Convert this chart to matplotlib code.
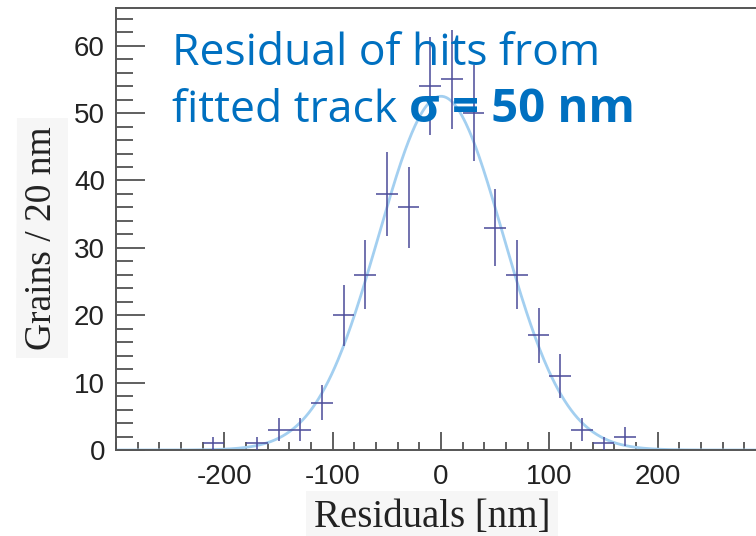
import matplotlib
matplotlib.use("Agg")
import matplotlib.pyplot as plt
import numpy as np
from matplotlib.ticker import MultipleLocator

plt.rcParams["axes.unicode_minus"] = False

# histogram of residuals (bin centres in nm, counts per 20 nm bin)
bin_centres = [-210, -170, -150, -130, -110, -90, -70, -50, -30, -10,
               10, 30, 50, 70, 90, 110, 130, 150, 170]
counts = [1, 1, 3, 3, 7, 20, 26, 38, 36, 54,
          55, 50, 33, 26, 17, 11, 3, 1, 2]
count_err = [1.0, 1.0, 1.7, 1.7, 2.6, 4.5, 5.1, 6.2, 6.0, 7.3,
             7.4, 7.1, 5.7, 5.1, 4.1, 3.3, 1.7, 1.0, 1.4]
bin_halfwidth = 10

# gaussian fit drawn over the histogram
fit_amp = 52.5
fit_mean = 0.0
fit_sigma = 57.5

x_ticks = [-200, -100, 0, 100, 200]
y_ticks = [0, 10, 20, 30, 40, 50, 60]

fig = plt.figure(figsize=(7.56, 5.36), dpi=100)
ax = fig.add_axes([116 / 756, 1 - 450 / 536, 650 / 756, 442 / 536])

xs = np.linspace(-300, 300, 601)
ax.plot(xs, fit_amp * np.exp(-0.5 * ((xs - fit_mean) / fit_sigma) ** 2),
        color="#a3cff0", linewidth=2.0, zorder=2)
ax.errorbar(bin_centres, counts, xerr=bin_halfwidth, yerr=count_err,
            fmt="none", ecolor="#4b4b99", elinewidth=1.3, alpha=0.85, zorder=3)

ax.set_xlim(-300, 300)
ax.set_ylim(0, 65.6)
ax.set_xticks(x_ticks)
ax.set_yticks(y_ticks)
ax.xaxis.set_minor_locator(MultipleLocator(20))
ax.yaxis.set_minor_locator(MultipleLocator(2))
ax.tick_params(axis="both", which="both", direction="in", colors="#444444",
               top=False, right=False, width=1.2)
ax.tick_params(axis="x", which="major", length=13, labelsize=20, pad=10,
               labelcolor="#222222")
ax.tick_params(axis="x", which="minor", length=6)
ax.tick_params(axis="y", which="major", length=21, labelsize=20, pad=8,
               labelcolor="#222222")
ax.tick_params(axis="y", which="minor", length=12)
for lab in ax.get_xticklabels() + ax.get_yticklabels():
    lab.set_family("Liberation Sans")
for side in ["left", "bottom", "top"]:
    ax.spines[side].set_color("#555555")
    ax.spines[side].set_linewidth(1.4)
ax.spines["right"].set_visible(False)

label_box = dict(facecolor="#f6f6f6", edgecolor="none", pad=6)
fig.text(432 / 756, 1 - 518 / 536, "Residuals [nm]", family="Liberation Serif",
         fontsize=28, ha="center", va="center", color="#222222", bbox=label_box)
fig.text(42 / 756, 1 - 238 / 536, "Grains / 20 nm", family="Liberation Serif",
         fontsize=27, rotation=90, ha="center", va="center", color="#222222",
         bbox=label_box)

fig.text(172 / 756, 1 - 65 / 536, "Residual of hits from", family="Open Sans",
         fontsize=32, color="#0070c0", ha="left", va="baseline")
t1 = fig.text(172 / 756, 1 - 122 / 536, "fitted track ", family="Open Sans",
              fontsize=32, color="#0070c0", ha="left", va="baseline")
fig.canvas.draw()
bb = t1.get_window_extent()
fig.text(bb.x1 / 756, 1 - 122 / 536, "σ = 50 nm", family="Open Sans",
         fontsize=34, fontweight="bold", color="#0070c0", ha="left", va="baseline")

fig.savefig("out.png", dpi=100)
